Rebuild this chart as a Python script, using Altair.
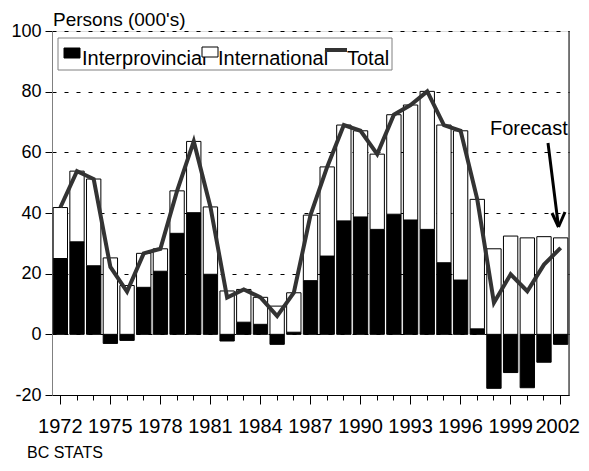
import altair as alt
import pandas as pd

years = list(range(1972, 2003))
interprovincial = [25.0, 30.5, 22.6, -3.0, -2.0, 15.5, 20.8, 33.3, 40.1, 19.8,
                   -2.2, 4.0, 3.3, -3.3, 0.7, 17.7, 25.8, 37.4, 38.7, 34.6,
                   39.6, 37.7, 34.6, 23.6, 17.9, 1.8, -17.8, -12.6, -17.6, -9.2, -3.3]
international = [16.8, 23.3, 28.6, 25.2, 16.1, 11.2, 7.4, 14.0, 23.5, 22.2,
                 14.3, 10.8, 8.9, 9.3, 13.0, 21.6, 29.4, 31.6, 28.4, 24.8,
                 32.8, 37.9, 45.5, 45.4, 49.2, 42.7, 28.2, 32.4, 31.8, 32.2, 31.8]
total = [41.8, 53.8, 51.2, 22.2, 14.1, 26.7, 28.2, 47.3, 63.6, 42.0,
         12.1, 14.8, 12.2, 6.0, 13.7, 39.3, 55.2, 69.0, 67.1, 59.4,
         72.4, 75.6, 80.1, 69.0, 67.1, 44.5, 10.4, 19.8, 14.2, 23.0, 28.5]
y_ticks = [-20, 0, 20, 40, 60, 80, 100]
series_names = ["Interprovincial", "International"]

rows = []
for yr, ip, it in zip(years, interprovincial, international):
    base = max(ip, 0)
    rows.append({"year": yr, "series": "Interprovincial", "y0": 0, "y1": ip})
    rows.append({"year": yr, "series": "International", "y0": base, "y1": base + it})
df_bars = pd.DataFrame(rows)
df_line = pd.DataFrame({"year": years, "total": total})

FONT = "Liberation Sans"
W, H = 517, 364

x_enc = alt.X(
    "year:O",
    scale=alt.Scale(paddingInner=0.14, paddingOuter=0.07),
    axis=alt.Axis(
        title=None,
        labelAngle=0,
        labelExpr="datum.value % 3 == 1 ? datum.label : ''",
        labelFont=FONT,
        labelFontSize=20,
        labelColor="black",
        labelOverlap=False,
        labelBound=False,
        labelPadding=12,
        labelOffset={"condition": {"test": "datum.value == 2002", "value": -3}, "value": 0},
        tickColor="black",
        tickSize={"condition": {"test": "datum.value % 3 == 1", "value": 9}, "value": 5},
        domainColor="black",
        grid=False,
    ),
)
y_scale = alt.Scale(domain=[-20, 100], nice=False, zero=False)

bars = alt.Chart(df_bars).mark_bar(stroke="black", strokeWidth=1).encode(
    x=x_enc,
    y=alt.Y(
        "y0:Q",
        scale=y_scale,
        axis=alt.Axis(
            title=None,
            values=y_ticks,
            labelExpr="'' + datum.value",
            grid=True,
            gridDash=[4, 8],
            gridColor="black",
            gridWidth=1,
            labelFont=FONT,
            labelFontSize=18,
            labelColor="black",
            labelPadding=4,
            tickSize=7,
            tickColor="black",
            domainColor="#808080",
        ),
    ),
    y2="y1:Q",
    fill=alt.Fill("series:N", scale=alt.Scale(domain=series_names, range=["#000000", "#ffffff"]), legend=None),
)

line = alt.Chart(df_line).mark_line(color="#333333", strokeWidth=4).encode(
    x="year:O",
    y=alt.Y("total:Q", scale=y_scale),
)

def txt(s, x, y, size, align="left", baseline="alphabetic"):
    return alt.Chart(pd.DataFrame({"t": [s]})).mark_text(
        font=FONT, fontSize=size, color="black", align=align, baseline=baseline
    ).encode(x=alt.value(x), y=alt.value(y), text="t:N")

def seg(x1, y1, x2, y2, width=3, color="black"):
    return alt.Chart(pd.DataFrame({"a": [0]})).mark_rule(color=color, strokeWidth=width).encode(
        x=alt.value(x1), y=alt.value(y1), x2=alt.value(x2), y2=alt.value(y2)
    )

def box(x1, y1, x2, y2, fill, stroke):
    return alt.Chart(pd.DataFrame({"a": [0]})).mark_rect(fill=fill, stroke=stroke, strokeWidth=1).encode(
        x=alt.value(x1), y=alt.value(y1), x2=alt.value(x2), y2=alt.value(y2)
    )

right_border = seg(W, 0, W, H, width=1)

legend = [
    box(6, 7, 340, 39, "white", "#808080"),
    txt("Interprovincial", 30, 34, 20),
    txt("International", 166, 34, 20),
    txt("Total", 295, 34, 20),
    box(12, 17, 28, 27, "black", "black"),
    box(150, 16, 166, 26, "white", "black"),
    seg(273, 19, 295, 19, width=4, color="#333333"),
]

annotations = [
    txt("Persons (000's)", 1, -5, 19),
    txt("Forecast", 438, 104, 20),
    seg(496, 112, 506.5, 196),
    seg(500, 182, 506.5, 196),
    seg(513, 181, 506.5, 196),
    txt("BC STATS", -25, 427, 16),
]

chart = alt.layer(bars, line, right_border, *legend, *annotations).properties(
    width=W, height=H,
    autosize=alt.AutoSizeParams(type="none"),
    padding={"left": 44, "top": 23, "right": 12, "bottom": 68},
).configure_view(stroke=None).configure(background="white")

chart.save("out.html", embed_options={"renderer": "svg", "actions": False})
